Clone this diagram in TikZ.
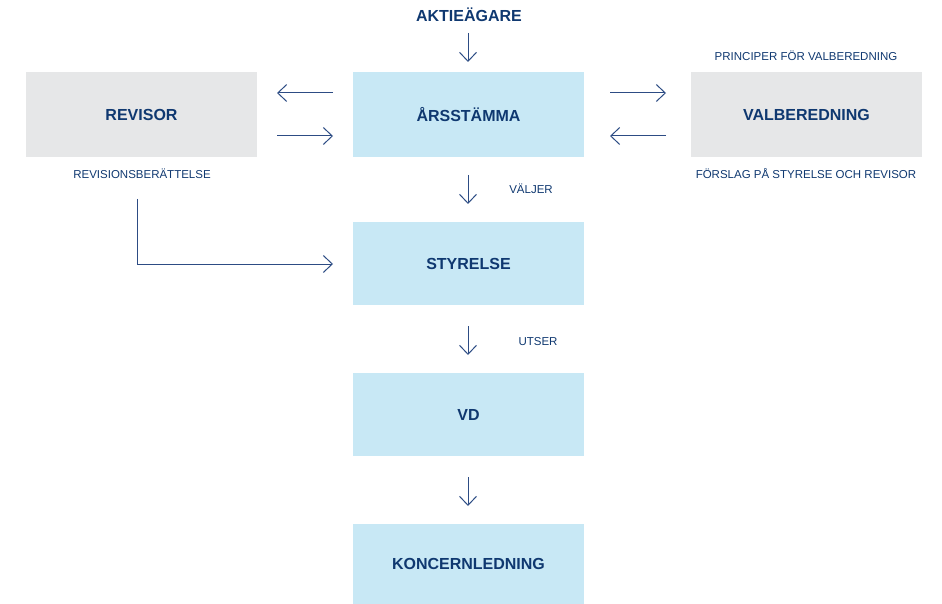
\documentclass[tikz,border=0pt]{standalone}
\usepackage{fontspec}
\setmainfont{Liberation Sans}
\usetikzlibrary{arrows.meta}
\definecolor{boxblue}{HTML}{C8E8F5}
\definecolor{boxgray}{HTML}{E6E7E8}
\definecolor{txt}{HTML}{0F3870}
\definecolor{arr}{HTML}{2D4C84}
\tikzset{
  every picture/.style={x=1pt,y=-1pt},
  bluebox/.style={fill=boxblue, minimum width=231pt, minimum height=85pt, inner sep=0pt, text=txt, font=\fontsize{16}{18}\selectfont\bfseries},
  graybox/.style={bluebox, fill=boxgray},
  title/.style={text=txt, font=\fontsize{16}{18}\selectfont\bfseries, inner sep=0pt},
  small/.style={text=txt, font=\fontsize{11.5}{13}\selectfont, inner sep=0pt},
  conn/.style={draw=arr, line width=1pt, -{Straight Barb[length=9pt,width=17pt]}},
}
\begin{document}
\begin{tikzpicture}
\useasboundingbox (0,0) rectangle (942,604);
\node[bluebox] (ars) at (468.5,114.5) {ÅRSSTÄMMA};
\node[graybox] (rev) at (141.5,114.5) {REVISOR};
\node[graybox] (val) at (806.5,114.5) {VALBEREDNING};
\node[bluebox, minimum height=83pt] (sty) at (468.5,263.5) {STYRELSE};
\node[bluebox, minimum height=83pt] (vd) at (468.5,414.5) {VD};
\node[bluebox, minimum height=80pt] (kon) at (468.5,564) {KONCERNLEDNING};
\node[title] (akt) at (469,15) {AKTIEÄGARE};
\node[small] (revtxt) at (142,174) {REVISIONSBERÄTTELSE};
\node[small] (princ) at (806,56) {PRINCIPER FÖR VALBEREDNING};
\node[small] (forsl) at (806,174) {FÖRSLAG PÅ STYRELSE OCH REVISOR};
\node[small] (valjer) at (531,189) {VÄLJER};
\node[small] (utser) at (538,342) {UTSER};
% coordinates for arrow ends
\coordinate (a1) at (468,33); \coordinate (a2) at (468,62);
\coordinate (l1) at (333,93); \coordinate (l2) at (277,93);
\coordinate (l3) at (277,136); \coordinate (l4) at (333,136);
\coordinate (r1) at (610,93); \coordinate (r2) at (666,93);
\coordinate (r3) at (666,136); \coordinate (r4) at (610,136);
\coordinate (d1) at (468,175); \coordinate (d2) at (468,204);
\coordinate (d3) at (468,326); \coordinate (d4) at (468,355);
\coordinate (d5) at (468,477); \coordinate (d6) at (468,506);
\coordinate (e1) at (137,199); \coordinate (e2) at (333,264);
\draw[conn] (a1) -- (a2);
\draw[conn] (l1) -- (l2);
\draw[conn] (l3) -- (l4);
\draw[conn] (r1) -- (r2);
\draw[conn] (r3) -- (r4);
\draw[conn] (d1) -- (d2);
\draw[conn] (d3) -- (d4);
\draw[conn] (d5) -- (d6);
\draw[conn] (e1) |- (e2);
\end{tikzpicture}
\end{document}
